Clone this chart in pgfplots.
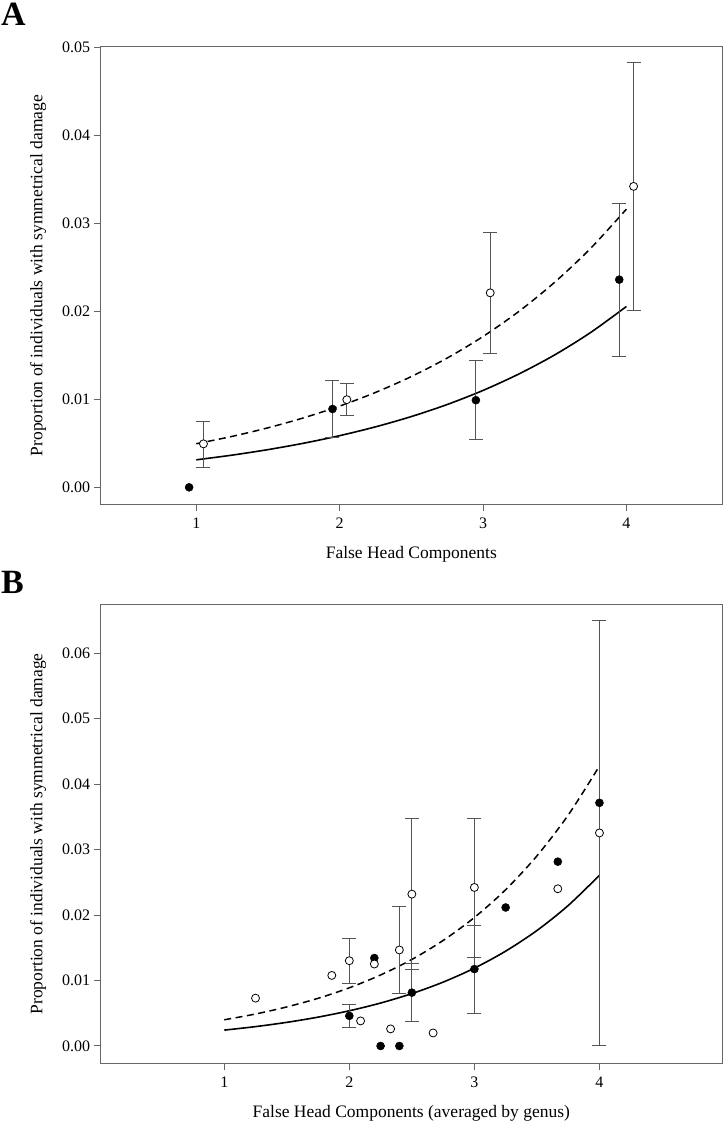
\documentclass[border=0pt]{standalone}
\usepackage{fontspec}
\setmainfont{Liberation Serif}
\usepackage{pgfplots}
\usepackage{pgfplotstable}
\pgfplotsset{compat=1.18}

\definecolor{boxgray}{gray}{0.40}
\definecolor{errgray}{gray}{0.33}

% ---------------- Panel A data ----------------
\pgfplotstableread{
x y ep em
1.95 0.00890 0.00320 0.00320
2.95 0.00990 0.00455 0.00450
3.95 0.02360 0.00870 0.00873
}\Afillerr
\pgfplotstableread{
x y
0.95 0.0000
}\Afill
\pgfplotstableread{
x y ep em
1.05 0.00494 0.00253 0.00264
2.05 0.00996 0.00185 0.00185
3.05 0.02210 0.00690 0.00685
4.05 0.03420 0.01410 0.01410
}\Aopenerr
\pgfplotstableread{
x y
1.00 0.003123
1.25 0.003657
1.50 0.004283
1.75 0.005014
2.00 0.005870
2.25 0.006871
2.50 0.008042
2.75 0.009410
3.00 0.01101
3.25 0.01288
3.50 0.01505
3.75 0.01759
4.00 0.02055
}\Asolid
\pgfplotstableread{
x y
1.00 0.004953
1.25 0.005787
1.50 0.006762
1.75 0.007903
2.00 0.009230
2.25 0.01078
2.50 0.01259
2.75 0.01469
3.00 0.01714
3.25 0.01999
3.50 0.02331
3.75 0.02715
4.00 0.03161
}\Adashed

% ---------------- Panel B data ----------------
\pgfplotstableread{
x y ep em
2.00 0.00460 0.00170 0.00170
2.50 0.00815 0.00445 0.00442
3.00 0.01175 0.00670 0.00674
}\Bfillerr
\pgfplotstableread{
x y
2.20 0.01344
2.25 0.00000
2.40 0.00000
3.25 0.02116
3.667 0.02816
4.00 0.03715
}\Bfill
\pgfplotstableread{
x y ep em
2.00 0.01303 0.00337 0.00343
2.40 0.01467 0.00659 0.00660
2.50 0.02320 0.01160 0.01155
3.00 0.02422 0.01058 0.01063
4.00 0.03255 0.03245 0.03255
}\Bopenerr
\pgfplotstableread{
x y
1.25 0.00731
1.86 0.01078
2.09 0.00383
2.20 0.01252
2.33 0.00261
2.67 0.00199
3.667 0.02402
}\Bopen
\pgfplotstableread{
x y
1.00 0.002424
1.25 0.002959
1.50 0.003611
1.75 0.004407
2.00 0.005379
2.25 0.006561
2.50 0.008002
2.75 0.009757
3.00 0.01189
3.25 0.01449
3.50 0.01764
3.75 0.02146
4.00 0.02608
}\Bsolid
\pgfplotstableread{
x y
1.00 0.004002
1.25 0.004887
1.50 0.005967
1.75 0.007283
2.00 0.008889
2.25 0.01085
2.50 0.01322
2.75 0.01612
3.00 0.01963
3.25 0.02388
3.50 0.02904
3.75 0.03527
4.00 0.04277
}\Bdashed

\pgfplotsset{
  rplot/.style={
    scale only axis,
    width=621.3pt,
    axis line style={boxgray, line width=1pt},
    tick style={boxgray, line width=1pt},
    tick align=outside,
    major tick length=7pt,
    tick pos=left,
    xtick={1,2,3,4},
    xticklabels={1,2,3,4},
    scaled y ticks=false,
    ticklabel style={font=\fontsize{16}{19}\selectfont},
    xticklabel style={yshift=-3pt},
    label style={font=\fontsize{17.5}{21}\selectfont},
    xlabel style={at={(axis description cs:0.5,-0.1185)}, anchor=base},
    ylabel style={at={(axis description cs:-0.1009,0.5)}, anchor=center},
    ylabel={Proportion of individuals with symmetrical damage},
    clip=false,
  },
  solidcurve/.style={black, line width=1.6pt, solid, smooth, mark=none},
  dashcurve/.style={black, line width=1.5pt, dash pattern=on 7pt off 4.5pt, smooth, mark=none},
  filledpts/.style={only marks, mark=*, mark size=4pt,
    mark options={fill=black, draw=black, line width=0.5pt, solid}},
  openpts/.style={only marks, mark=*, mark size=4pt,
    mark options={fill=white, draw=black, line width=0.8pt, solid}},
  errp/.style={error bars/.cd, y dir=both, y explicit,
    error bar style={errgray, line width=1pt, solid},
    error mark options={errgray, rotate=90, mark size=7pt, line width=1pt, solid}},
}

\begin{document}
\begin{tikzpicture}
\useasboundingbox (0pt,0pt) rectangle (725pt,1123pt);

% ---------------- Panel A ----------------
\begin{axis}[rplot,
  at={(100.7pt,618.7pt)}, anchor=south west,
  height=457.3pt,
  xmin=0.3333, xmax=4.6667,
  ymin=-0.00193, ymax=0.05004,
  ytick={0,0.01,0.02,0.03,0.04,0.05},
  yticklabels={0.00,0.01,0.02,0.03,0.04,0.05},
  xlabel={False Head Components},
]
\addplot[solidcurve] table[x=x,y=y] {\Asolid};
\addplot[dashcurve] table[x=x,y=y] {\Adashed};
\addplot[filledpts, errp] table[x=x,y=y,y error plus=ep,y error minus=em] {\Afillerr};
\addplot[filledpts] table[x=x,y=y] {\Afill};
\addplot[openpts, errp] table[x=x,y=y,y error plus=ep,y error minus=em] {\Aopenerr};
\end{axis}

% ---------------- Panel B ----------------
\begin{axis}[rplot,
  at={(100.7pt,60pt)}, anchor=south west,
  height=458.3pt,
  xmin=0.012, xmax=4.98,
  ymin=-0.0026, ymax=0.06742,
  ytick={0,0.01,0.02,0.03,0.04,0.05,0.06},
  yticklabels={0.00,0.01,0.02,0.03,0.04,0.05,0.06},
  xlabel={False Head Components (averaged by genus)},
]
\addplot[solidcurve] table[x=x,y=y] {\Bsolid};
\addplot[dashcurve] table[x=x,y=y] {\Bdashed};
\addplot[filledpts, errp] table[x=x,y=y,y error plus=ep,y error minus=em] {\Bfillerr};
\addplot[filledpts] table[x=x,y=y] {\Bfill};
\addplot[openpts, errp] table[x=x,y=y,y error plus=ep,y error minus=em] {\Bopenerr};
\addplot[openpts] table[x=x,y=y] {\Bopen};
\end{axis}

\node[anchor=base west, inner sep=0pt, font=\fontsize{34}{40}\selectfont\bfseries] at (1pt,1097pt) {A};
\node[anchor=base west, inner sep=0pt, font=\fontsize{34}{40}\selectfont\bfseries] at (1pt,529pt) {B};
\end{tikzpicture}
\end{document}
